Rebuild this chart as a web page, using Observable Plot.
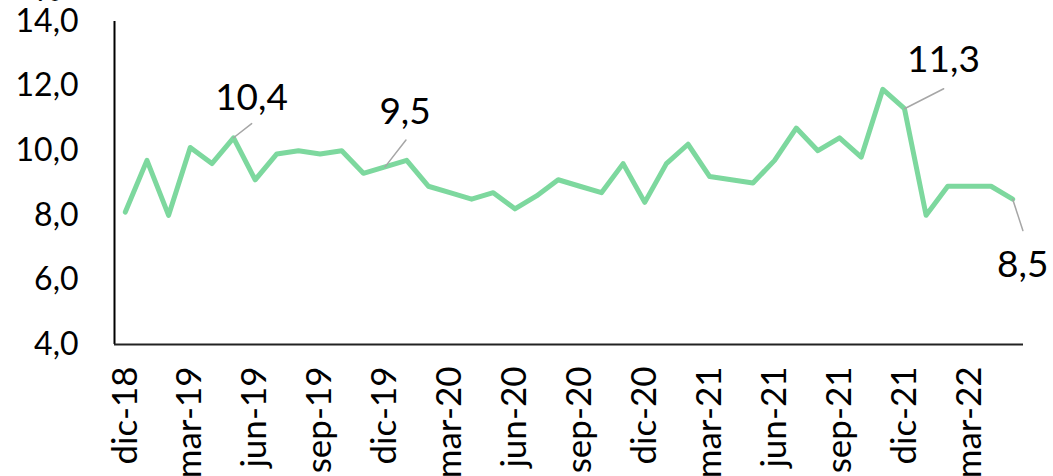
<!DOCTYPE html>
<html>
<head>
<meta charset="utf-8">
<script src="https://cdn.jsdelivr.net/npm/d3@7"></script>
<script src="https://cdn.jsdelivr.net/npm/@observablehq/plot@0.6"></script>
<style>
  html, body { margin: 0; padding: 0; background: #fff; }
  #chart { width: 1053px; height: 476px; overflow: hidden; }
</style>
</head>
<body>
<div id="chart"></div>
<script>
// ---- Data ----
const months = [
  "dic-18",
  "ene-19","feb-19","mar-19","abr-19","may-19","jun-19","jul-19","ago-19","sep-19","oct-19","nov-19","dic-19",
  "ene-20","feb-20","mar-20","abr-20","may-20","jun-20","jul-20","ago-20","sep-20","oct-20","nov-20","dic-20",
  "ene-21","feb-21","mar-21","abr-21","may-21","jun-21","jul-21","ago-21","sep-21","oct-21","nov-21","dic-21",
  "ene-22","feb-22","mar-22","abr-22","may-22"
];
const values = [
  8.1,
  9.7, 8.0, 10.1, 9.6, 10.4, 9.1, 9.9, 10.0, 9.9, 10.0, 9.3, 9.5,
  9.7, 8.9, 8.7, 8.5, 8.7, 8.2, 8.6, 9.1, 8.9, 8.7, 9.6, 8.4,
  9.6, 10.2, 9.2, 9.1, 9.0, 9.7, 10.7, 10.0, 10.4, 9.8, 11.9, 11.3,
  8.0, 8.9, 8.9, 8.9, 8.5
];
const tickMonths = months.filter((m, i) => i % 3 === 0);
const yTicks = [4, 6, 8, 10, 12, 14];
const labeledMonths = ["may-19", "dic-19", "dic-21", "may-22"];
const unitLabel = "%";

// ---- Styling (leader / label offsets in px) ----
const labelStyle = {
  "may-19": {len: 23, rot: 52,  tdx: 18,  tdy: -40},
  "dic-19": {len: 34, rot: 38,  tdx: 20,  tdy: -55},
  "dic-21": {len: 44, rot: 63,  tdx: 39,  tdy: -49},
  "may-22": {len: 33, rot: 162, tdx: 10,  tdy: 66}
};

const data = months.map((m, i) => ({idx: i, month: m, value: values[i]}));
const fmt = v => v.toFixed(1).replace(".", ",");
const tickIdx = tickMonths.map(m => months.indexOf(m));

const labelMarks = [];
for (const m of labeledMonths) {
  const s = labelStyle[m];
  const d = data.filter(r => r.month === m);
  labelMarks.push(Plot.vector(d, {
    x: "idx", y: "value", length: s.len, rotate: s.rot, anchor: "start",
    r: 0, stroke: "#a6a6a6", strokeWidth: 1.5
  }));
  labelMarks.push(Plot.text(d, {
    x: "idx", y: "value", text: r => fmt(r.value), dx: s.tdx, dy: s.tdy,
    fontSize: 37, fill: "#000", textAnchor: "middle", lineAnchor: "middle"
  }));
}

const chart = Plot.plot({
  width: 1053,
  height: 476,
  marginLeft: 114,
  marginRight: 30,
  marginTop: 21,
  marginBottom: 132,
  style: {fontFamily: "Lato, 'Open Sans', sans-serif", fontSize: "32px", color: "#000", background: "#fff"},
  x: {type: "linear", domain: [-0.5, months.length - 0.5], label: null},
  y: {domain: [4, 14], label: null},
  marks: [
    Plot.axisY({ticks: yTicks, tickFormat: fmt, tickSize: 0, tickPadding: 36, fontSize: 32, label: null}),
    Plot.axisX({ticks: tickIdx, tickFormat: i => months[i], tickRotate: -90, tickSize: 0, tickPadding: 22, fontSize: 35, label: null}),
    Plot.ruleX([-0.5], {stroke: "#000", strokeWidth: 2}),
    Plot.ruleY([4], {stroke: "#222", strokeWidth: 2}),
    Plot.line(data, {x: "idx", y: "value", stroke: "#7dd89e", strokeWidth: 5, strokeLinejoin: "round"}),
    ...labelMarks,
    Plot.text([unitLabel], {frameAnchor: "top-left", textAnchor: "middle", lineAnchor: "middle", dx: -66, dy: -31, fontSize: 32, fill: "#000"})
  ]
});
document.getElementById("chart").appendChild(chart);
</script>
</body>
</html>
